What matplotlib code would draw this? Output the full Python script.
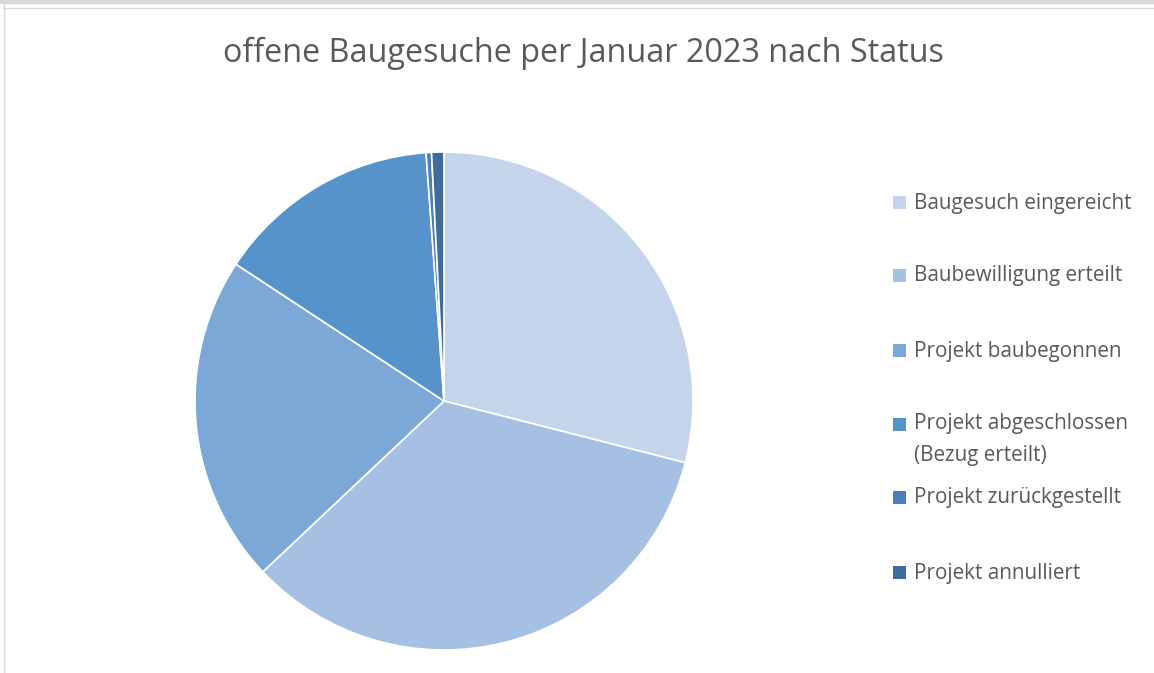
import matplotlib
matplotlib.use("Agg")
import matplotlib.pyplot as plt
from matplotlib.patches import Rectangle
from matplotlib.lines import Line2D

# --- Data ---
labels = [
    "Baugesuch eingereicht",
    "Baubewilligung erteilt",
    "Projekt baubegonnen",
    "Projekt abgeschlossen\n(Bezug erteilt)",
    "Projekt zurückgestellt",
    "Projekt annulliert",
]
shares = [29.0, 34.0, 21.3, 14.6, 0.35, 0.8]
colors = ["#C4D4EA", "#A6C0E3", "#7CA8D8", "#5693CB", "#4A80BA", "#3F6B9E"]
title = "offene Baugesuche per Januar 2023 nach Status"

W, H = 1154, 673
fig = plt.figure(figsize=(W / 100, H / 100), dpi=100)
fig.patch.set_facecolor("white")

# --- Pie ---
cx, cy, r = 444, 401, 249
ax = fig.add_axes([(cx - r) / W, (H - cy - r) / H, 2 * r / W, 2 * r / H])
ax.pie(
    shares,
    colors=colors,
    startangle=90,
    counterclock=False,
    wedgeprops=dict(edgecolor="white", linewidth=1.2),
)
ax.set_xlim(-1, 1)
ax.set_ylim(-1, 1)
ax.set_aspect("auto")
ax.axis("off")

# --- Title ---
fig.text(583 / W, 1 - 53 / H, title, ha="center", va="center",
         fontsize=23.3, color="#595959", family="Open Sans")

# --- Legend (drawn by hand to keep Excel spacing) ---
leg_y = [203, 276, 351, 425, 498, 573]
for lab, col, y in zip(labels, colors, leg_y):
    fig.patches.append(Rectangle((893 / W, 1 - (y + 6) / H), 13 / W, 13 / H,
                                 transform=fig.transFigure, facecolor=col,
                                 edgecolor="none"))
    if "\n" in lab:
        # first line centred on the marker
        fig.text(914 / W, 1 - (y - 12) / H, lab, ha="left", va="top",
                 fontsize=14.9, color="#595959", family="Open Sans",
                 linespacing=1.7)
    else:
        fig.text(914 / W, 1 - y / H, lab, ha="left", va="center",
                 fontsize=14.9, color="#595959", family="Open Sans")

# --- Chart frame lines (screenshot edges) ---
fig.add_artist(Line2D([0, 1], [1 - 1.5 / H, 1 - 1.5 / H], transform=fig.transFigure,
                      color="#D9D9D9", linewidth=3))
fig.add_artist(Line2D([3 / W, 1], [1 - 7.5 / H, 1 - 7.5 / H], transform=fig.transFigure,
                      color="#D9D9D9", linewidth=1))
fig.add_artist(Line2D([3.5 / W, 3.5 / W], [0, 1], transform=fig.transFigure,
                      color="#D9D9D9", linewidth=1))

fig.savefig("out.png", dpi=100)
